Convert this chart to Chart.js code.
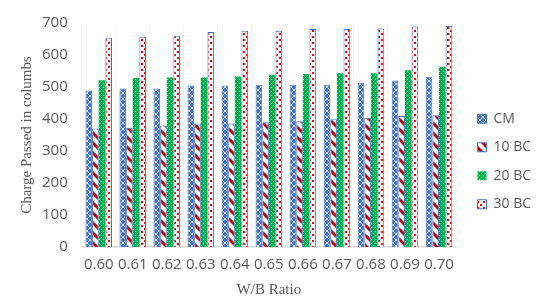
<!DOCTYPE html>
<html>
<head>
<meta charset="utf-8">
<style>
  html, body { margin: 0; padding: 0; background: #fff; }
  #wrap { position: relative; width: 540px; height: 302px; }
</style>
</head>
<body>
<div id="wrap"><canvas id="myChart"></canvas></div>
<script src="https://cdn.jsdelivr.net/npm/chart.js@4/dist/chart.umd.min.js"></script>
<script>
// data
var ratios = ['0.60', '0.61', '0.62', '0.63', '0.64', '0.65', '0.66', '0.67', '0.68', '0.69', '0.70'];
var cm     = [489, 495, 495, 505, 505, 507, 507, 507, 513, 520, 532];
var bc10   = [370, 373, 380, 386, 386, 390, 393, 399, 404, 409, 412];
var bc20   = [521, 528, 530, 530, 533, 538, 541, 543, 543, 552, 563];
var bc30   = [654, 657, 660, 672, 676, 676, 681, 681, 683, 689, 691];
var seriesNames = ['CM', '10 BC', '20 BC', '30 BC'];

var blue = '#4472C4';

function makePattern(size, draw) {
  var c = document.createElement('canvas');
  c.width = size; c.height = size;
  var g = c.getContext('2d');
  draw(g, size);
  return g.createPattern(c, 'repeat');
}

// blue with little white crosses
var cmPat = makePattern(6, function (g, s) {
  g.fillStyle = blue; g.fillRect(0, 0, s, s);
  g.strokeStyle = 'rgba(255,255,255,0.8)'; g.lineWidth = 1;
  g.beginPath();
  g.moveTo(0, 0); g.lineTo(6, 6);
  g.moveTo(6, 0); g.lineTo(0, 6);
  g.stroke();
});
// white with red diagonal stripes
var bc10Pat = makePattern(10, function (g, s) {
  g.fillStyle = '#fff'; g.fillRect(0, 0, s, s);
  g.strokeStyle = '#C00000'; g.lineWidth = 3;
  g.beginPath();
  g.moveTo(-2, -2); g.lineTo(12, 12);
  g.moveTo(-12, -2); g.lineTo(2, 12);
  g.moveTo(8, -2); g.lineTo(22, 12);
  g.stroke();
});
// green with white dots
var bc20Pat = makePattern(4, function (g, s) {
  g.fillStyle = '#00B050'; g.fillRect(0, 0, s, s);
  g.fillStyle = 'rgba(255,255,255,0.75)';
  g.fillRect(1, 1, 1, 1);
  g.fillRect(3, 3, 1, 1);
});
// white with red dashes
var bc30Pat = makePattern(6, function (g, s) {
  g.fillStyle = '#fff'; g.fillRect(0, 0, s, s);
  g.fillStyle = '#FF0000';
  g.fillRect(0, 0, 2, 2);
  g.fillRect(3, 3, 2, 2);
});

// nudge the legend a little right and down, like the original
var legendShift = {
  id: 'legendShift',
  afterLayout: function (chart) {
    chart.legend.left += 7;
    chart.legend.right += 7;
    chart.legend.top += 4;
    chart.legend.bottom += 4;
  }
};

var ctx = document.getElementById('myChart').getContext('2d');
var chart = new Chart(ctx, {
  type: 'bar',
  data: {
    labels: ratios,
    datasets: [
      { label: seriesNames[0], data: cm,   backgroundColor: cmPat,   borderColor: blue,      borderWidth: 1 },
      { label: seriesNames[1], data: bc10, backgroundColor: bc10Pat, borderColor: blue,      borderWidth: 1 },
      { label: seriesNames[2], data: bc20, backgroundColor: bc20Pat, borderColor: '#00B050', borderWidth: 0 },
      { label: seriesNames[3], data: bc30, backgroundColor: bc30Pat, borderColor: blue,      borderWidth: 1 }
    ]
  },
  plugins: [legendShift],
  options: {
    responsive: true,
    maintainAspectRatio: false,
    animation: false,
    categoryPercentage: 0.78,
    barPercentage: 1.0,
    layout: { padding: { top: 16, left: 4, right: 6, bottom: 3 } },
    plugins: {
      tooltip: { enabled: false },
      legend: {
        position: 'right',
        align: 'center',
        labels: {
          boxWidth: 9,
          boxHeight: 9,
          padding: 14.5,
          color: '#595959',
          font: { family: 'Open Sans', size: 14 }
        }
      }
    },
    scales: {
      x: {
        grid: { display: true, drawTicks: false, color: 'rgba(0,0,0,0.04)' },
        border: { display: true, color: '#D9D9D9', width: 1.5 },
        ticks: { color: '#595959', padding: 9, autoSkip: false, font: { family: 'Open Sans', size: 15 }, maxRotation: 0 },
        title: { display: true, text: 'W/B Ratio', color: '#595959', padding: { top: -2, bottom: 0 }, font: { family: 'Liberation Serif', size: 15 } }
      },
      y: {
        min: 0,
        max: 700,
        ticks: { stepSize: 100, color: '#595959', padding: 14, font: { family: 'Open Sans', size: 15 } },
        grid: { display: false, drawTicks: false },
        border: { display: false },
        title: { display: true, text: 'Charge Passed in columbs', color: '#595959', padding: { top: 14, bottom: -8 }, font: { family: 'Liberation Serif', size: 15 } }
      }
    }
  }
});
</script>
</body>
</html>
